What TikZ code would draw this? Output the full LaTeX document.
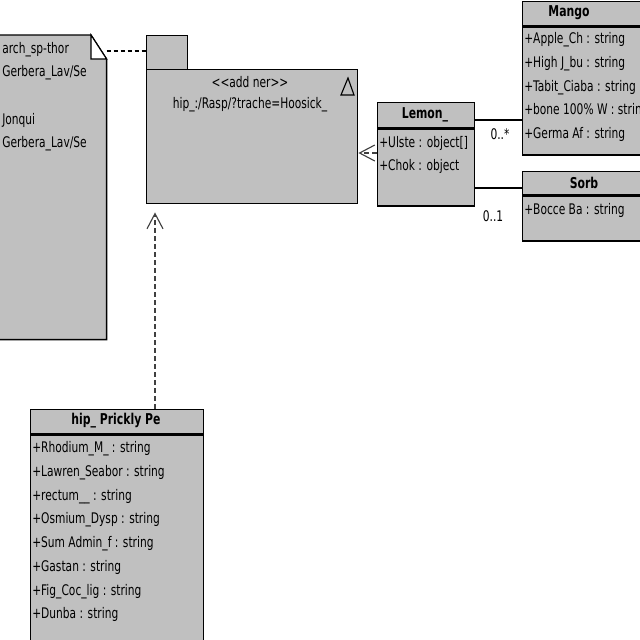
\documentclass[tikz,border=0pt]{standalone}
\usepackage{fontspec}
\setmainfont{DejaVu Sans Condensed}[FakeStretch=0.81]
\usetikzlibrary{positioning,arrows.meta}
\definecolor{umlgray}{RGB}{192,192,192}

\begin{document}
\begin{tikzpicture}[
    x=0.025cm, y=-0.025cm,
    sz/.style 2 args={minimum width=#1*0.025cm, minimum height=#2*0.025cm},
    box/.style={rectangle, draw=black, line width=1pt, fill=umlgray, inner sep=0pt},
    headbox/.style={box, anchor=north west},
    notebox/.style={rectangle, inner sep=0pt, anchor=north west},
    notefill/.style={draw=black, line width=1pt, fill=umlgray},
    title/.style={font=\fontsize{10.6pt}{12pt}\selectfont\bfseries, inner sep=0pt},
    attr/.style={font=\fontsize{10.4pt}{12pt}\selectfont, anchor=west, inner sep=0pt},
    mult/.style={font=\fontsize{10.4pt}{12pt}\selectfont, inner sep=0pt},
    dep/.style={-{Straight Barb[length=0.38cm, width=0.4cm]}, dash pattern=on 3.5pt off 2.2pt, draw=black!75, line width=0.8pt},
    notelink/.style={dash pattern=on 3pt off 2pt, draw=black, line width=0.9pt},
    assoc/.style={draw=black, line width=1pt},
    node distance=0pt
]
\useasboundingbox (0,0) rectangle (640,640);

% Note with folded corner
\node[notebox, sz={107}{304}] (note) at (-1,35) {};
\draw[notefill] (note.north west) -- ++(92,0) coordinate (fold) -- (note.east |- 0,59) -- (note.south east) -- (note.south west) -- cycle;
\draw[line width=0.8pt, fill=white] (fold) -- (fold |- 0,59) -- (note.east |- 0,59) -- cycle;
\foreach \y/\t in {50/{arch\_sp-thor}, 73/{Gerbera\_Lav/Se}, 120/{Jonqui}, 144/{Gerbera\_Lav/Se}}
    \node[attr] at (2,\y) {\t};

% Package
\node[headbox, sz={41}{34}] (pkgTab) at (146,35) {};
\node[headbox, sz={211}{134}] (pkg) at (146,69) {};
\node[mult] (pkgStereo) at (250,82) {<{}<add ner>{}>};
\node[mult] (pkgName) at (250,105) {hip\_:/Rasp/?trache=Hoosick\_};
\draw[line width=0.8pt] (341,95) -- (348,78) -- (354,95) -- cycle;

% Class Lemon_
\node[headbox, sz={97}{25}] (lemonHead) at (377,102) {};
\node[box, sz={97}{77}, below=of lemonHead] (lemon) {};
\node[title] at (425,115) {Lemon\_};
\foreach \t [count=\i from 0] in {+Ulste : object[], +Chok : object}
    \node[attr] at (379,{143+23.5*\i}) {\t};

% Class Mango
\node[headbox, sz={124}{24}] (mangoHead) at (522,1) {};
\node[box, sz={124}{128}, below=of mangoHead] (mango) {};
\node[title] at (569,13) {Mango};
\foreach \t [count=\i from 0] in {+Apple\_Ch : string, +High J\_bu : string, +Tabit\_Ciaba : string, +bone 100\% W : string, +Germa Af : string}
    \node[attr] at (524,{40+23.6*\i}) {\t};

% Class Sorb
\node[headbox, sz={124}{23}] (sorbHead) at (522,171) {};
\node[box, sz={124}{45}, below=of sorbHead] (sorb) {};
\node[title] at (584,183) {Sorb};
\node[attr] at (524,210) {+Bocce Ba : string};

% Class hip_ Prickly Pe
\node[headbox, sz={173}{24}] (prickHead) at (30,409) {};
\node[box, sz={173}{220}, below=of prickHead] (prick) {};
\node[title] at (116,421) {hip\_ Prickly Pe};
\foreach \t [count=\i from 0] in {+Rhodium\_M\_ : string, +Lawren\_Seabor : string, +rectum\_\_ : string, +Osmium\_Dysp : string, +Sum Admin\_f : string, +Gastan : string, +Fig\_Coc\_lig : string, +Dunba : string}
    \node[attr] at (32,{449+23.7*\i}) {\t};

% Connectors
\draw[notelink] (note.east |- 0,51) -- (pkgTab.west |- 0,51);
\draw[dep] (lemon.west |- 0,153) -- (pkg.east |- 0,153);
\draw[dep, shorten >=0.2cm] (prickHead.north -| 155,0) -- (pkg.south -| 155,0);
\draw[assoc] (lemonHead.east |- 0,120) -- (mango.west |- 0,120);
\draw[assoc] (lemon.east |- 0,188) -- (sorbHead.west |- 0,188);
\node[mult] at (500,134) {0..*};
\node[mult] at (493,216) {0..1};

\end{tikzpicture}
\end{document}
